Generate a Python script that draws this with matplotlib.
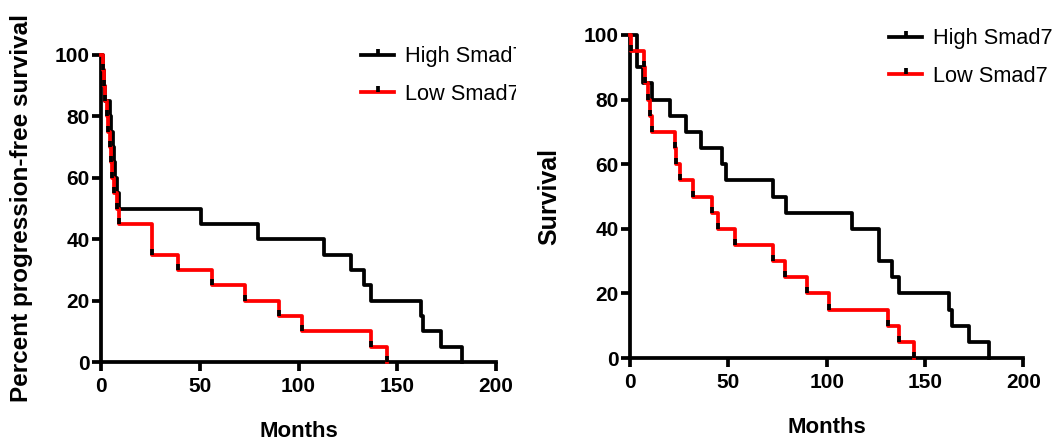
import numpy as np
import matplotlib
matplotlib.use("Agg")
import matplotlib.pyplot as plt
from matplotlib.lines import Line2D
from matplotlib.patches import Rectangle

plt.rcParams['font.family'] = ['Liberation Sans', 'DejaVu Sans']

# Panel A: progression-free survival (months, percent)
pfs_high_t = [0, 1, 1.5, 2, 4.5, 5, 6, 6.5, 7, 8, 9, 50.5, 79.7, 112.9, 126.4, 133, 136.5, 161.9, 163.2, 172, 182.6]
pfs_high_s = [100, 95, 90, 85, 80, 75, 70, 65, 60, 55, 50, 45, 40, 35, 30, 25, 20, 15, 10, 5, 0]
pfs_low_t = [0, 1, 1.5, 2, 3, 3.5, 4.5, 5, 5.5, 6.5, 8, 9, 26, 39, 56, 72.9, 90.1, 101.6, 136.5, 144.6]
pfs_low_s = [100, 95, 90, 85, 80, 75, 70, 65, 60, 55, 50, 45, 35, 30, 25, 20, 15, 10, 5, 0]

# Panel B: overall survival
os_high_t = [0, 3.7, 6.8, 11, 20.3, 28.3, 35.9, 46.6, 48.8, 72.9, 79.3, 112.7, 126.6, 133.4, 136.8, 162.2, 163.5, 172.3, 182.7]
os_high_s = [100, 90, 85, 80, 75, 70, 65, 60, 55, 50, 45, 40, 30, 25, 20, 15, 10, 5, 0]
os_low_t = [0, 0.5, 7, 7.5, 9.3, 10, 11, 23, 23.5, 25.4, 32.2, 41.5, 44.7, 53.4, 72.9, 78.8, 89.8, 101.3, 131, 136.8, 144.6]
os_low_s = [100, 95, 90, 85, 80, 75, 70, 65, 60, 55, 50, 45, 40, 35, 30, 25, 20, 15, 10, 5, 0]

labels = ['High Smad7', 'Low Smad7']
xticks = [0, 50, 100, 150, 200]
yticks = [0, 20, 40, 60, 80, 100]

LW = 2.7
tick_marker = [(0, 0), (0, 1)]

fig = plt.figure(figsize=(10.54, 4.45), dpi=100)
axA = fig.add_axes([101 / 1054, 1 - 362 / 445, 395 / 1054, 307 / 445])
axB = fig.add_axes([630 / 1054, 1 - 358 / 445, 393.3 / 1054, 323 / 445])


def draw_panel(ax, ht, hs, lt, ls, ylabel, ylab_x, xlab_y):
    ax.step(ht, hs, where='post', color='black', lw=LW, clip_on=False, zorder=3)
    ax.step(lt, ls, where='post', color='red', lw=LW, clip_on=False, zorder=4)
    # censor ticks on the red curve
    ax.plot(lt[1:], ls[1:], ls='none', marker=tick_marker, markersize=8,
            markeredgewidth=LW, markeredgecolor='black', clip_on=False, zorder=5)
    ax.set_xlim(0, 200)
    ax.set_ylim(0, 100)
    ax.set_xticks(xticks)
    ax.set_yticks(yticks)
    for s in ['top', 'right']:
        ax.spines[s].set_visible(False)
    for s in ['left', 'bottom']:
        ax.spines[s].set_linewidth(LW)
    ax.tick_params(direction='out', length=6.5, width=LW, labelsize=15)
    ax.tick_params(axis='x', pad=4)
    ax.tick_params(axis='y', pad=1.5)
    for t in ax.get_xticklabels() + ax.get_yticklabels():
        t.set_fontweight('bold')
    ax.set_xlabel('Months', fontsize=16, fontweight='bold')
    ax.set_ylabel(ylabel, fontsize=17.5 if len(ylabel) > 10 else 18, fontweight='bold')
    ax.xaxis.set_label_coords(0.5, xlab_y)
    ax.yaxis.set_label_coords(ylab_x, 0.5)
    ax.xaxis.label.set_va('center')
    ax.yaxis.label.set_va('center')


draw_panel(axA, pfs_high_t, pfs_high_s, pfs_low_t, pfs_low_s,
           'Percent progression-free survival', -0.2, -0.228)
draw_panel(axB, os_high_t, os_high_s, os_low_t, os_low_s,
           'Survival', -0.206, -0.214)

handles = [
    Line2D([], [], color='black', lw=LW, marker=tick_marker, markersize=9,
           markeredgewidth=LW, markeredgecolor='black'),
    Line2D([], [], color='red', lw=LW, marker=tick_marker, markersize=9,
           markeredgewidth=LW, markeredgecolor='black'),
]

leg_kw = dict(loc='upper left', bbox_transform=fig.transFigure, frameon=False, fontsize=15.7,
              handlelength=1.5, handletextpad=0.5, labelspacing=0.75, borderpad=0.2)

axA.legend(handles, labels, bbox_to_anchor=(346 / 1054, 1 - 31 / 445), **leg_kw)
axB.legend(handles, labels, bbox_to_anchor=(874 / 1054, 1 - 13 / 445), **leg_kw)

# the left panel is cropped at its right edge in the original figure
fig.add_artist(Rectangle((516 / 1054, 1 - 115 / 445), 15 / 1054, 90 / 445,
                         transform=fig.transFigure, facecolor='white',
                         edgecolor='none', zorder=10))

fig.savefig('out.png', dpi=100)
